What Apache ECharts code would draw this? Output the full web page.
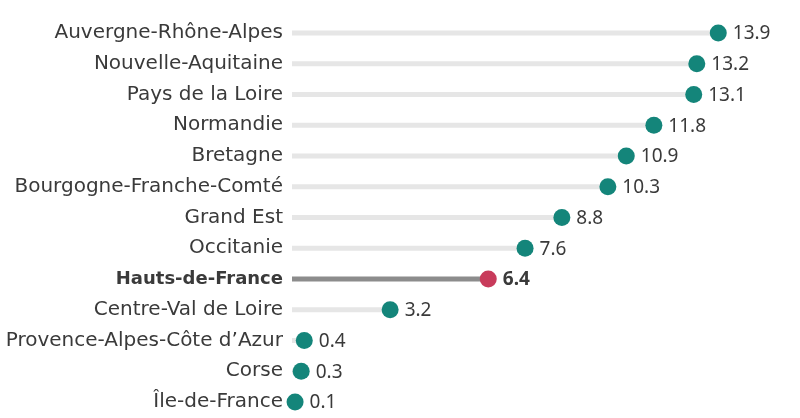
<!DOCTYPE html>
<html>
<head>
<meta charset="utf-8">
<script src="https://cdn.jsdelivr.net/npm/echarts@6/dist/echarts.min.js"></script>
<style>
  html, body { margin: 0; padding: 0; background: #fff; }
  #chart { width: 800px; height: 418px; }
</style>
</head>
<body>
<div id="chart"></div>
<script>
var regions = ['Auvergne-Rhône-Alpes', 'Nouvelle-Aquitaine', 'Pays de la Loire', 'Normandie',
  'Bretagne', 'Bourgogne-Franche-Comté', 'Grand Est', 'Occitanie', 'Hauts-de-France',
  'Centre-Val de Loire', 'Provence-Alpes-Côte d\u2019Azur', 'Corse', 'Île-de-France'];
var values = [13.9, 13.2, 13.1, 11.8, 10.9, 10.3, 8.8, 7.6, 6.4, 3.2, 0.4, 0.3, 0.1];
var highlight = 'Hauts-de-France';

var FONT = 'DejaVu Sans';
var NUMFONT = 'Noto Sans';
var TEXT = '#3a3a3a';

var chart = echarts.init(document.getElementById('chart'));

var barData = values.map(function (v, i) {
  var hi = regions[i] === highlight;
  return { value: v, itemStyle: { color: hi ? '#8c8c8c' : '#e6e6e6' } };
});
var dotData = values.map(function (v, i) {
  var hi = regions[i] === highlight;
  return {
    value: v,
    itemStyle: { color: hi ? '#c83b5b' : '#14857a' },
    label: { fontWeight: hi ? 'bold' : 'normal' }
  };
});

var option = {
  animation: false,
  grid: { left: 292, width: 460, top: 17.6, height: 399.8, containLabel: false },
  xAxis: {
    type: 'value', min: 0, max: 15,
    show: false
  },
  yAxis: {
    type: 'category',
    inverse: true,
    data: regions,
    axisLine: { show: false },
    axisTick: { show: false },
    axisLabel: {
      margin: 9,
      fontFamily: FONT,
      fontSize: 20,
      color: TEXT,
      formatter: function (v) {
        return v === highlight ? '{b|' + v + '}' : v;
      },
      rich: { b: { fontFamily: FONT, fontSize: 18, fontWeight: 'bold', color: TEXT } }
    }
  },
  series: [{
    type: 'bar',
    barWidth: 5,
    silent: true,
    data: barData
  }, {
    type: 'scatter',
    symbolSize: 17,
    z: 3,
    itemStyle: { opacity: 1 },
    label: {
      show: true,
      position: 'right',
      distance: 6,
      offset: [0, 1],
      fontFamily: NUMFONT,
      fontSize: 19,
      color: TEXT,
      formatter: function (p) { return p.value.toFixed(1); }
    },
    data: dotData
  }]
};
chart.setOption(option);
</script>
</body>
</html>
